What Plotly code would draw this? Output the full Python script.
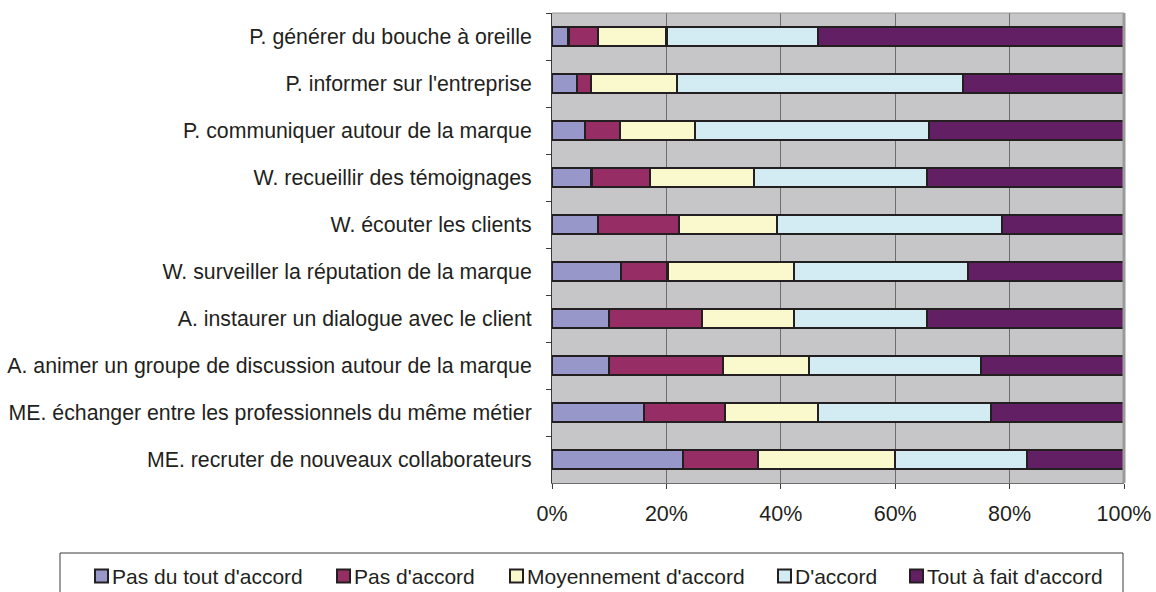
import plotly.graph_objects as go

# Survey items (top to bottom as displayed)
items = [
    "P. générer du bouche à oreille",
    "P. informer sur l'entreprise",
    "P. communiquer autour de la marque",
    "W. recueillir des témoignages",
    "W. écouter les clients",
    "W. surveiller la réputation de la marque",
    "A. instaurer un dialogue avec le client",
    "A. animer un groupe de discussion autour de la marque",
    "ME. échanger entre les professionnels du même métier",
    "ME. recruter de nouveaux collaborateurs",
]

# Share of answers per level of agreement (%)
pas_du_tout = [2.9, 4.3, 5.8, 6.9, 8.0, 12.0, 10.0, 10.0, 16.1, 22.9]
pas_accord = [5.1, 2.5, 6.1, 10.2, 14.2, 8.2, 16.2, 19.9, 14.1, 13.1]
moyennement = [12.0, 15.0, 13.1, 18.2, 17.1, 22.1, 16.1, 15.0, 16.3, 23.9]
d_accord = [26.5, 50.0, 40.9, 30.2, 39.4, 30.4, 23.2, 30.1, 30.2, 23.1]
tout_a_fait = [53.5, 28.2, 34.1, 34.5, 21.3, 27.3, 34.5, 25.0, 23.3, 17.0]

series = [
    ("Pas du tout d'accord", pas_du_tout, "#9797C9"),
    ("Pas d'accord", pas_accord, "#962D64"),
    ("Moyennement d'accord", moyennement, "#FAF8CD"),
    ("D'accord", d_accord, "#D3ECF3"),
    ("Tout à fait d'accord", tout_a_fait, "#621F64"),
]

x_ticks = [0, 20, 40, 60, 80, 100]

FONT = "Liberation Sans, Arial, sans-serif"
INK = "#231F20"

W, H = 1156, 592
ML, MR, MT, MB = 552, 32, 13, 109
PW, PH = W - ML - MR, H - MT - MB


def px_x(px):
    """Pixel column -> paper x."""
    return (px - ML) / PW


def px_y(py):
    """Pixel row -> paper y."""
    return (H - MB - py) / PH


fig = go.Figure()
for name, vals, color in series:
    fig.add_trace(go.Bar(
        name=name,
        y=items,
        x=vals,
        orientation="h",
        width=0.39,
        marker=dict(color=color, line=dict(color=INK, width=2.2)),
        showlegend=False,
    ))

fig.update_layout(
    barmode="stack",
    width=W,
    height=H,
    margin=dict(l=ML, r=MR, t=MT, b=MB, autoexpand=False),
    paper_bgcolor="white",
    plot_bgcolor="#C6C6C8",
    font=dict(family=FONT, size=21, color=INK),
    xaxis=dict(
        range=[0, 100],
        tickvals=x_ticks,
        ticktext=[f"{v}%" for v in x_ticks],
        showgrid=True,
        gridcolor="#6E6E6E",
        gridwidth=1,
        zeroline=False,
        showline=True,
        linecolor="#6E6E6E",
        ticks="outside",
        ticklen=5,
        tickcolor="#3A3A3A",
        ticklabelstandoff=6,
        tickfont=dict(size=21.5),
        fixedrange=True,
    ),
    yaxis=dict(
        type="category",
        categoryorder="array",
        categoryarray=items,
        autorange="reversed",
        showgrid=False,
        showline=True,
        linecolor="#3A3A3A",
        ticks="outside",
        tickson="boundaries",
        ticklen=5,
        tickcolor="#3A3A3A",
        ticklabelstandoff=15,
        tickfont=dict(size=21.3),
        fixedrange=True,
    ),
)

# light frame on the top/right of the plotting area
fig.add_shape(type="line", xref="paper", yref="paper", x0=0, x1=1, y0=1, y1=1,
              line=dict(color="#9A9A9A", width=1))
fig.add_shape(type="line", xref="paper", yref="paper", x0=1, x1=1, y0=0, y1=1,
              line=dict(color="#9A9A9A", width=3))

# legend: framed single row of swatches + labels under the chart
LEG_LEFT, LEG_RIGHT, LEG_TOP, LEG_BOTTOM = 60, 1123, 553, 597
LEG_MID = 576
SW = 13
swatch_left = [95, 337, 510, 778, 910]

fig.add_shape(type="rect", xref="paper", yref="paper",
              x0=px_x(LEG_LEFT), x1=px_x(LEG_RIGHT),
              y0=px_y(LEG_BOTTOM), y1=px_y(LEG_TOP),
              line=dict(color="#3A3A3A", width=1), fillcolor="white", layer="below")

for (name, _, color), sx in zip(series, swatch_left):
    fig.add_shape(type="rect", xref="paper", yref="paper",
                  x0=px_x(sx), x1=px_x(sx + SW),
                  y0=px_y(LEG_MID + SW / 2), y1=px_y(LEG_MID - SW / 2),
                  line=dict(color=INK, width=2), fillcolor=color)
    fig.add_annotation(xref="paper", yref="paper",
                       x=px_x(sx + SW + 3), y=px_y(LEG_MID),
                       xanchor="left", yanchor="middle",
                       text=name, showarrow=False,
                       font=dict(size=21, color=INK), borderpad=0)

fig.write_html("out.html")
